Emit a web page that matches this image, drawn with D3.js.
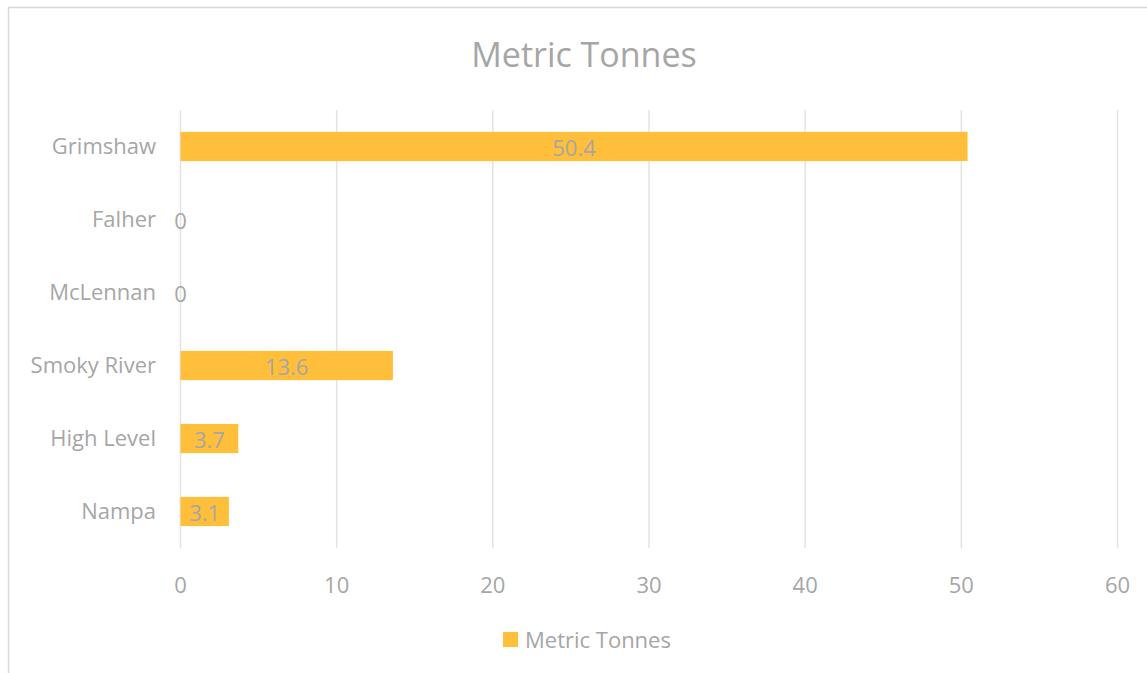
<!DOCTYPE html>
<html>
<head>
<meta charset="utf-8">
<script src="https://cdn.jsdelivr.net/npm/d3@7"></script>
<style>
  body { margin: 0; background: #fff; }
  svg text { font-family: "Open Sans", "Noto Sans", sans-serif; fill: #a6a6a6; }
</style>
</head>
<body>
<div id="chart"></div>
<script>
// data
var categories = ["Grimshaw", "Falher", "McLennan", "Smoky River", "High Level", "Nampa"]
var tonnes = [50.4, 0, 0, 13.6, 3.7, 3.1]
var xTicks = [0, 10, 20, 30, 40, 50, 60]
var seriesName = "Metric Tonnes"

var W = 1147, H = 673
var plot = {left: 180.5, right: 1117.5, top: 110, bottom: 548}

var svg = d3.select("#chart").append("svg")
    .attr("width", W)
    .attr("height", H)

// outer frame
svg.append("rect")
    .attr("x", 8.5).attr("y", 7.5)
    .attr("width", W + 20).attr("height", H + 20)
    .attr("fill", "white")
    .attr("stroke", "#d9d9d9")
    .attr("stroke-width", 1.5)

var x = d3.scaleLinear().domain([0, 60]).range([plot.left, plot.right])
var y = d3.scaleBand().domain(categories).range([plot.top, plot.bottom]).paddingInner(0.6).paddingOuter(0.3)

// title
svg.append("text")
    .attr("x", 584).attr("y", 67)
    .attr("text-anchor", "middle")
    .style("font-size", "34px")
    .text(seriesName)

// gridlines
svg.append("g").selectAll("line")
    .data(xTicks)
    .enter()
    .append("line")
    .attr("x1", function(d){ return x(d) })
    .attr("x2", function(d){ return x(d) })
    .attr("y1", plot.top)
    .attr("y2", plot.bottom)
    .attr("stroke", "#e3e3e3")
    .attr("stroke-width", 1.5)

// x tick labels
svg.append("g").selectAll("text")
    .data(xTicks)
    .enter()
    .append("text")
    .attr("x", function(d){ return x(d) })
    .attr("y", 593)
    .attr("text-anchor", "middle")
    .style("font-size", "22px")
    .text(function(d){ return d })

// category labels
svg.append("g").selectAll("text")
    .data(categories)
    .enter()
    .append("text")
    .attr("x", 156)
    .attr("y", function(d){ return y(d) + y.bandwidth()/2 })
    .attr("dy", "0.35em")
    .attr("text-anchor", "end")
    .style("font-size", "22px")
    .text(function(d){ return d })

var rows = categories.map(function(c, i){ return {cat: c, val: tonnes[i]} })

// bars
svg.append("g").selectAll("rect")
    .data(rows)
    .enter()
    .append("rect")
    .attr("x", x(0))
    .attr("y", function(d){ return y(d.cat) })
    .attr("width", function(d){ return x(d.val) - x(0) })
    .attr("height", y.bandwidth())
    .attr("fill", "#ffbf3a")

// value labels
svg.append("g").selectAll("text")
    .data(rows)
    .enter()
    .append("text")
    .attr("x", function(d){ return (x(0) + x(d.val))/2 })
    .attr("y", function(d){ return y(d.cat) + y.bandwidth()/2 })
    .attr("dy", "0.45em")
    .attr("text-anchor", "middle")
    .style("font-size", "22px")
    .text(function(d){ return d.val })

// legend
var legend = svg.append("g")
legend.append("rect")
    .attr("x", 503).attr("y", 632)
    .attr("width", 15).attr("height", 15)
    .attr("fill", "#ffbf3a")
legend.append("text")
    .attr("x", 525).attr("y", 648)
    .style("font-size", "22px")
    .text(seriesName)
</script>
</body>
</html>
